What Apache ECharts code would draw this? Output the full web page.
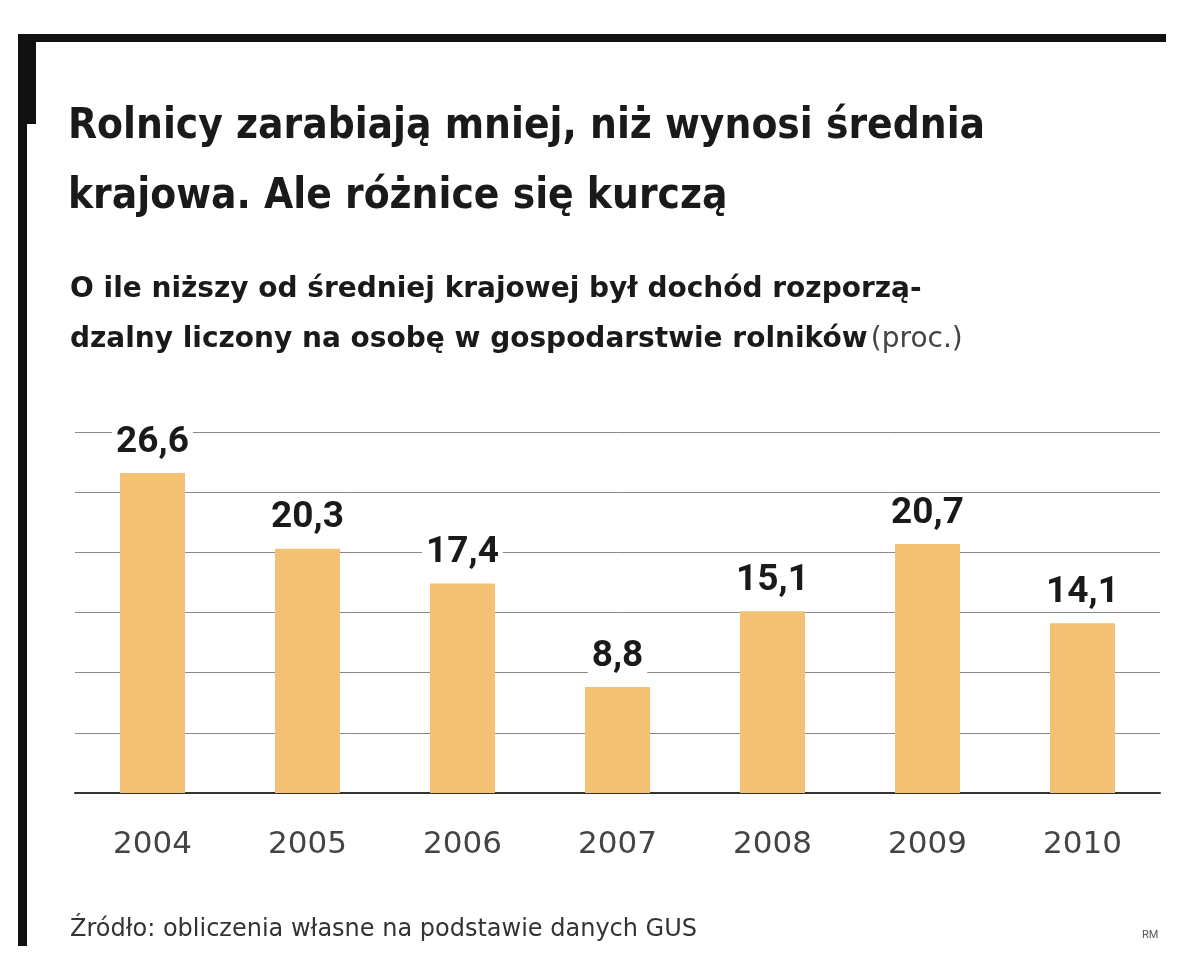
<!DOCTYPE html>
<html>
<head>
<meta charset="utf-8">
<script src="https://cdn.jsdelivr.net/npm/echarts@6/dist/echarts.min.js"></script>
<style>html,body{margin:0;padding:0;background:#fff}#chart{width:1200px;height:962px}</style>
</head>
<body>
<div id="chart"></div>
<script>
// dane
const years = ['2004', '2005', '2006', '2007', '2008', '2009', '2010'];
const values = [26.6, 20.3, 17.4, 8.8, 15.1, 20.7, 14.1];

const chart = echarts.init(document.getElementById('chart'));

const option = {
  backgroundColor: '#fff',
  animation: false,
  grid: { left: 75, right: 40, top: 432, bottom: 169 },
  xAxis: {
    type: 'category',
    data: years,
    axisTick: { show: false },
    axisLine: { lineStyle: { color: '#333', width: 2 } },
    axisLabel: { color: '#444', fontSize: 31, fontFamily: 'DejaVu Sans', margin: 36 }
  },
  yAxis: {
    type: 'value',
    min: 0,
    max: 30,
    interval: 5,
    axisLabel: { show: false },
    axisLine: { show: false },
    axisTick: { show: false },
    splitLine: { lineStyle: { color: '#888', width: 1 } }
  },
  series: [{
    type: 'bar',
    data: values,
    barWidth: 65,
    itemStyle: { color: '#f2c173' },
    label: {
      show: true,
      position: 'top',
      distance: 12,
      formatter: function (p) { return String(p.value).replace('.', ','); },
      color: '#1a1a1a',
      fontSize: 37,
      fontWeight: 'bold',
      fontFamily: 'Roboto',
      backgroundColor: '#fff',
      padding: [0, 4]
    }
  }],
  graphic: [
    // ramka
    { type: 'rect', shape: { x: 18, y: 34, width: 1148, height: 8 }, style: { fill: '#111' } },
    { type: 'rect', shape: { x: 18, y: 34, width: 9, height: 912 }, style: { fill: '#111' } },
    { type: 'rect', shape: { x: 18, y: 34, width: 18, height: 90 }, style: { fill: '#111' } },
    {
      type: 'text', left: 68, top: 92,
      style: {
        text: 'Rolnicy zarabiają mniej, niż wynosi średnia\nkrajowa. Ale różnice się kurczą',
        font: 'bold 42px "DejaVu Sans Condensed", "Liberation Sans Narrow", sans-serif',
        fill: '#1a1a1a', lineHeight: 70
      }
    },
    {
      type: 'text', left: 70, top: 276,
      style: {
        text: '{b|O ile niższy od średniej krajowej był dochód rozporzą-}\n{b|dzalny liczony na osobę w gospodarstwie rolników} {n|(proc.)}',
        rich: {
          b: { font: 'bold 28px "DejaVu Sans", sans-serif', fill: '#1a1a1a', lineHeight: 50 },
          n: { font: '28px "DejaVu Sans", sans-serif', fill: '#444', lineHeight: 50 }
        }
      }
    },
    {
      type: 'text', left: 70, top: 918,
      style: { text: 'Źródło: obliczenia własne na podstawie danych GUS', font: '24px "DejaVu Sans", sans-serif', fill: '#333' }
    },
    {
      type: 'text', left: 1142, top: 930,
      style: { text: 'RM', font: '11px Roboto, sans-serif', fill: '#555' }
    }
  ]
};

chart.setOption(option);
</script>
</body>
</html>
